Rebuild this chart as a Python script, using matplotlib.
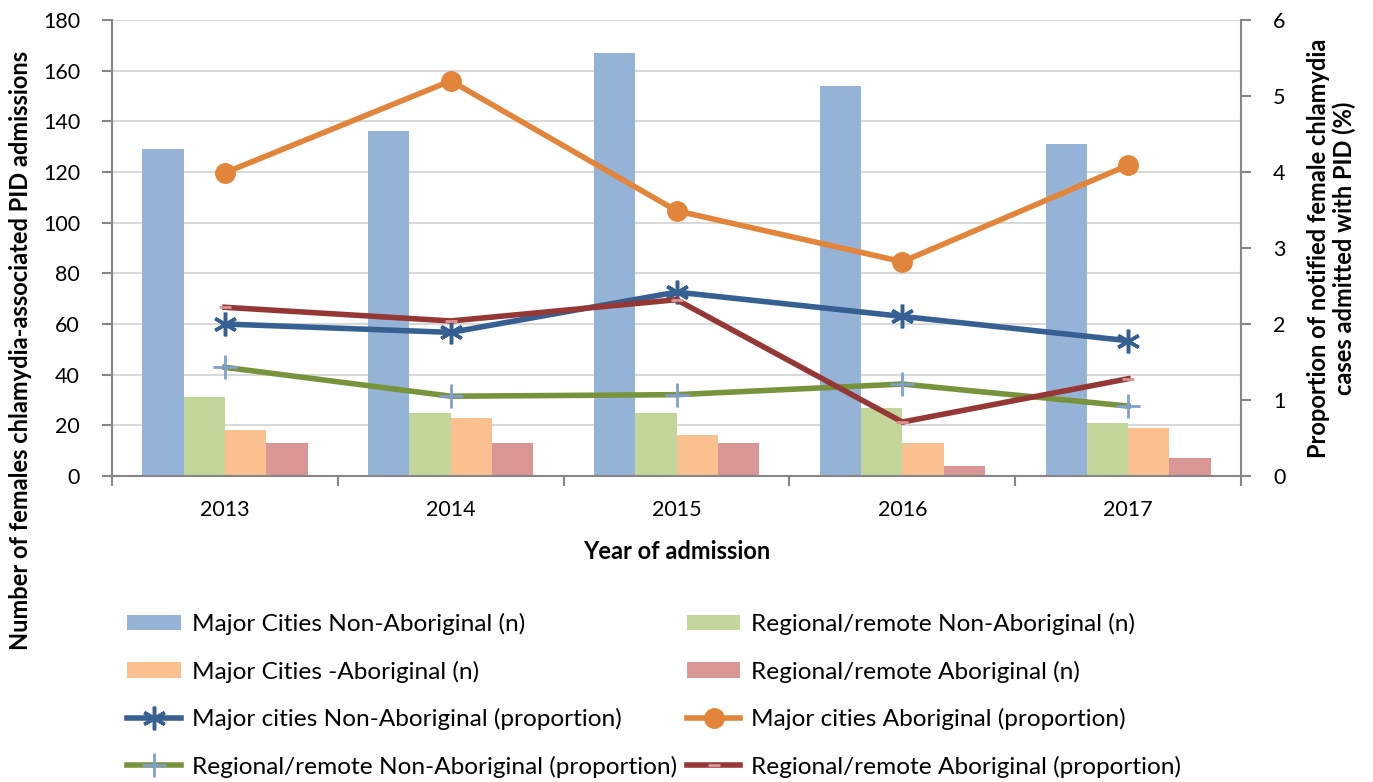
import matplotlib
matplotlib.use("Agg")
import matplotlib.pyplot as plt
import numpy as np
from matplotlib.patches import Patch
from matplotlib.lines import Line2D

plt.rcParams['font.family'] = ['Lato', 'DejaVu Sans']

years = ["2013", "2014", "2015", "2016", "2017"]

mc_nonabo_n = [129, 136, 167, 154, 131]
rr_nonabo_n = [31, 25, 25, 27, 21]
mc_abo_n = [18, 23, 16, 13, 19]
rr_abo_n = [13, 13, 13, 4, 7]

mc_nonabo_p = [2.0, 1.89, 2.42, 2.1, 1.78]
mc_abo_p = [3.99, 5.2, 3.49, 2.82, 4.09]
rr_nonabo_p = [1.43, 1.05, 1.07, 1.21, 0.92]
rr_abo_p = [2.22, 2.04, 2.32, 0.71, 1.28]

bar_labels = ["Major Cities Non-Aboriginal (n)", "Regional/remote Non-Aboriginal (n)",
              "Major Cities -Aboriginal (n)", "Regional/remote Aboriginal (n)"]
line_labels = ["Major cities Non-Aboriginal (proportion)", "Major cities Aboriginal (proportion)",
               "Regional/remote Non-Aboriginal (proportion)", "Regional/remote Aboriginal (proportion)"]

bar_colors = ["#95B3D7", "#C4D79B", "#FAC090", "#DA9694"]
line_colors = ["#376092", "#E2843A", "#77933C", "#953735"]

fig = plt.figure(figsize=(13.73, 7.82), dpi=100)
ax = fig.add_axes([0.0816, 0.3913, 0.9039 - 0.0816, 0.9744 - 0.3913])
ax2 = ax.twinx()

x = np.arange(len(years))
w = 0.183
for i, (vals, c) in enumerate(zip([mc_nonabo_n, rr_nonabo_n, mc_abo_n, rr_abo_n], bar_colors)):
    ax.bar(x + (i - 1.5) * w, vals, w, color=c, zorder=2)

ax.set_xlim(-0.5, 4.5)
ax.set_ylim(0, 180)
ax.set_yticks(range(0, 181, 20))
ax.grid(axis='y', color='#D9D9D9', linewidth=1.5, zorder=0)
ax.set_axisbelow(True)
ax.set_xticks(x)
ax.set_xticklabels(years)
ax.set_xticks(np.arange(-0.5, 5, 1), minor=True)
ax.tick_params(axis='x', which='major', length=0, labelsize=15.5, pad=17)
ax.tick_params(axis='x', which='minor', length=7, color='#868686', width=1.5)
ax.tick_params(axis='y', labelsize=15.5, length=7, color='#868686', width=1.5, pad=16)
ax.spines['top'].set_visible(False)
ax2.spines['top'].set_visible(False)
ax.spines['right'].set_visible(False)
for sp in [ax.spines['left'], ax.spines['bottom'], ax2.spines['right']]:
    sp.set_color('#868686')
    sp.set_linewidth(1.5)
ax2.spines['left'].set_visible(False)
ax2.spines['bottom'].set_visible(False)

ax.set_xlabel("Year of admission", fontsize=17, fontweight='bold')
ax.xaxis.set_label_coords(0.5, -0.14)
ax.set_ylabel("Number of females chlamydia-associated PID admissions", fontsize=17,
              fontweight='bold')
ax.yaxis.set_label_coords(-0.071, 0.275)

star = (6, 2, 0)
l1, = ax2.plot(x, mc_nonabo_p, color=line_colors[0], lw=4, marker=star, ms=17,
               mec=line_colors[0], mew=2.5, zorder=3)
l2, = ax2.plot(x, mc_abo_p, color=line_colors[1], lw=4, marker='o', ms=14,
               mfc=line_colors[1], mec=line_colors[1], zorder=3)
l3, = ax2.plot(x, rr_nonabo_p, color=line_colors[2], lw=4, marker='+', ms=17,
               mec='#7F9FCF', mew=2, zorder=3)
l4, = ax2.plot(x, rr_abo_p, color=line_colors[3], lw=4, marker='_', ms=8,
               mec='#D99694', mew=2, zorder=3)
ax2.set_ylim(0, 6)
ax2.set_yticks(range(0, 7))
ax2.tick_params(axis='y', labelsize=15.5, length=7, color='#868686', width=1.5, pad=16)
ax2.set_ylabel("Proportion of notified female chlamydia\ncases admitted with PID (%)",
               fontsize=17, fontweight='bold', linespacing=1.15)
ax2.yaxis.set_label_coords(1.058, 0.5)

bh = [Patch(facecolor=c) for c in bar_colors]
handles = [bh[0], bh[2], l1, l3, bh[1], bh[3], l2, l4]
labels = [bar_labels[0], bar_labels[2], line_labels[0], line_labels[2],
          bar_labels[1], bar_labels[3], line_labels[1], line_labels[3]]
fig.legend(handles, labels, loc='upper left', bbox_to_anchor=(0.08, 0.238),
           ncol=2, frameon=False, fontsize=17.6, handlelength=2.2, handleheight=0.6,
           labelspacing=1.04, columnspacing=0.4, handletextpad=0.45, borderpad=0.2)

fig.savefig("out.png", dpi=100)
